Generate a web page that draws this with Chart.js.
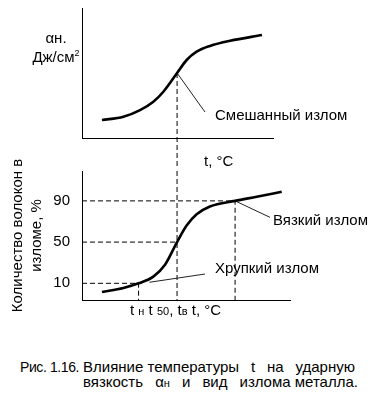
<!DOCTYPE html>
<html><head><meta charset="utf-8">
<script src="https://cdn.jsdelivr.net/npm/chart.js@4.4.0/dist/chart.umd.min.js"></script>
<style>
html,body{margin:0;padding:0;background:#fff;}
body{width:370px;height:395px;position:relative;overflow:hidden;font-family:'Liberation Sans',Arial,sans-serif;color:#000;}
canvas{position:absolute;left:0;}
.t{position:absolute;white-space:nowrap;font-size:15px;line-height:16px;}
.s{font-size:11px;}
.row{position:absolute;display:flex;justify-content:space-between;font-size:15px;line-height:16px;white-space:nowrap;}
</style></head><body>
<canvas id="top" width="370" height="170" style="top:0"></canvas>
<canvas id="bot" width="370" height="180" style="top:150px"></canvas>

<div class="t" style="left:30px;width:52px;text-align:center;top:30px;">αн.</div>
<div class="t" style="left:30px;width:52px;text-align:center;top:45px;">Дж/см<sup style="font-size:9px;">2</sup></div>
<div class="t" style="left:215px;top:107px;">Смешанный излом</div>
<div class="t" style="left:204px;top:153px;">t, °C</div>
<div class="t" style="left:273px;top:212px;">Вязкий излом</div>
<div class="t" style="left:215px;top:260px;">Хрупкий излом</div>
<div class="t" style="left:130px;top:302px;">t <span class="s">н</span> t <span class="s">50</span>, t<span class="s">в</span> t, °C</div>

<div class="t" style="left:20px;top:359px;font-size:14px;letter-spacing:-0.4px;">Рис. 1.16.</div>
<div class="row" style="left:83px;width:272px;top:359px;"><span>Влияние температуры</span><span>t</span><span>на</span><span>ударную</span></div>
<div class="row" style="left:83px;width:275px;top:374px;"><span>вязкость</span><span>α<span class="s">н</span></span><span>и</span><span>вид</span><span>излома металла.</span></div>

<script>
// Top chart: impact toughness vs temperature (schematic units)
const tempTop   = [9.6, 19.9, 27.9, 34.3, 39.1, 45.7, 50.3, 55.1, 61.5, 71.2, 86.5];
const impactTop = [13.8, 16.4, 21.5, 27.9, 35.6, 50, 60, 66.4, 70.8, 74.8, 79.2];
// Bottom chart: fibrous share in fracture, %
const tempBottom = [9.6, 19.9, 27.2, 34.3, 39.9, 45.7, 50.3, 55.1, 61.5, 73.6, 84.0, 96.0];
const fibrePct   = [1.5, 5.5, 10, 16.5, 28, 50, 66, 77, 84.6, 90, 94, 98.8];
const levelTicks = [10, 50, 90];
const levelLabels = ['10', '50', '90'];
const tN = 27.2, t50 = 45.7, tV = 73.6;
const mixedLeaderX = [45.7, 59.1], mixedLeaderY = [50, 20];
const ductileLeaderX = [73.6, 90.4], ductileLeaderY = [90, 74];
const brittleLeaderX = [32.4, 59.1], brittleLeaderY = [11, 19];
const topXMax = 91.8, topYMin = 0, topYMax = 100;
const botXMax = 100, botYMin = -6.2, botYMax = 119;

const pts = (xs, ys) => xs.map((x, i) => ({x, y: ys[i]}));
const FONT = "'Liberation Sans', Arial, sans-serif";
const curve = (data) => ({data, borderColor:'#000', borderWidth:2.6, pointRadius:0, tension:0.4, cubicInterpolationMode:'monotone', fill:false, clip:false});
const dashed = (data) => ({data, borderColor:'#000', borderWidth:1, borderDash:[5,3], pointRadius:0, tension:0, fill:false, clip:false});
const leader = (data) => ({data, borderColor:'#222', borderWidth:1, pointRadius:0, tension:0, fill:false, clip:false});

const baseOpts = {
  responsive:false, animation:false, events:[],
  plugins:{legend:{display:false}, tooltip:{enabled:false}},
};

new Chart(document.getElementById('top'), {
  type:'line',
  data:{datasets:[
    curve(pts(tempTop, impactTop)),
    leader(pts(mixedLeaderX, mixedLeaderY)),
    dashed([{x:t50, y:50}, {x:t50, y:topYMin - 22.3}])
  ]},
  options:{...baseOpts,
    layout:{padding:{left:0, right:97, top:8, bottom:0}},
    scales:{
      x:{type:'linear', min:0, max:topXMax, grid:{display:false, drawTicks:false}, ticks:{display:false},
         border:{display:true, color:'#000', width:1}, afterFit:s=>{s.height = 32;}},
      y:{type:'linear', min:topYMin, max:topYMax, grid:{display:false, drawTicks:false}, ticks:{display:false},
         border:{display:true, color:'#000', width:1}, afterFit:s=>{s.width = 82;}}
    }
  }
});

new Chart(document.getElementById('bot'), {
  type:'line',
  data:{datasets:[
    curve(pts(tempBottom, fibrePct)),
    leader(pts(ductileLeaderX, ductileLeaderY)),
    leader(pts(brittleLeaderX, brittleLeaderY)),
    dashed([{x:0, y:levelTicks[2]}, {x:tV, y:levelTicks[2]}, {x:tV, y:botYMin}]),
    dashed([{x:0, y:levelTicks[1]}, {x:t50, y:levelTicks[1]}]),
    dashed([{x:t50, y:botYMax}, {x:t50, y:botYMin}]),
    dashed([{x:0, y:levelTicks[0]}, {x:tN, y:levelTicks[0]}, {x:tN, y:botYMin}])
  ]},
  options:{...baseOpts,
    layout:{padding:{left:0, right:80, top:17, bottom:0}},
    scales:{
      x:{type:'linear', min:0, max:botXMax, grid:{display:false, drawTicks:false}, ticks:{display:false},
         border:{display:true, color:'#000', width:1}, afterFit:s=>{s.height = 30;}},
      y:{type:'linear', min:botYMin, max:botYMax, grid:{display:false, drawTicks:false},
         border:{display:true, color:'#000', width:1},
         afterBuildTicks:s=>{ s.ticks = levelTicks.map(v=>({value:v})); },
         ticks:{color:'#000', padding:12, font:{family:FONT, size:15}, callback:(v)=>levelLabels[levelTicks.indexOf(v)] ?? ''},
         title:{display:true, text:['Количество волокон в', 'изломе, %'], color:'#000',
                font:{family:FONT, size:15, lineHeight:'19px'}, padding:{top:8.5, bottom:0}},
         afterFit:s=>{s.width = 82;}}
    }
  }
});
</script>
</body></html>
